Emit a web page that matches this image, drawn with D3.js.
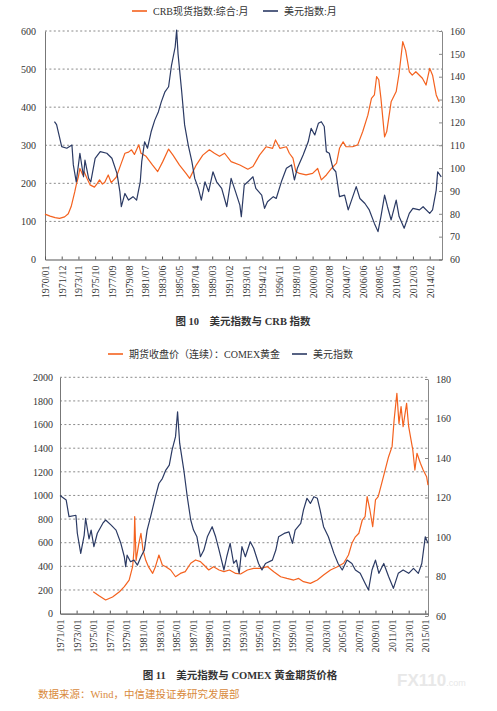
<!DOCTYPE html>
<html>
<head>
<meta charset="utf-8">
<script src="https://cdn.jsdelivr.net/npm/d3@7"></script>
<style>
  body { margin: 0; background: #fff; }
  svg { display: block; }
  text { font-family: "Liberation Serif", "Noto Sans CJK SC", serif; }
</style>
</head>
<body>
<div id="chart"></div>
<script>
// ---- data ----
// chart 1 : CRB spot index (left axis) and dollar index (right axis), monthly
var crbSeries = [
  ["1970-01",119],["1970-08",114],["1971-03",110],["1971-09",108],["1972-04",112],["1972-09",120],["1973-01",139],
  ["1973-06",178],["1973-08",196],["1973-11",218],["1974-01",239],["1974-05",222],["1974-07",230],["1974-11",212],
  ["1975-03",196],["1975-09",190],["1976-01",200],["1976-04",209],["1976-08",198],["1976-11",202],["1977-04",222],
  ["1977-08",202],["1978-03",216],["1978-10",253],["1979-03",279],["1979-08",282],["1979-12",288],["1980-04",276],
  ["1980-10",301],["1981-01",279],["1981-08",271],["1982-05",248],["1982-12",231],["1983-07",257],["1984-03",290],
  ["1984-09",274],["1985-06",248],["1986-03",226],["1986-08",213],["1987-05",248],["1988-02",274],["1988-11",288],
  ["1989-06",279],["1990-01",271],["1990-08",279],["1991-05",257],["1992-05",248],["1993-04",237],["1993-11",244],
  ["1994-08",274],["1995-05",296],["1996-02",292],["1996-06",314],["1996-12",292],["1997-09",296],["1998-01",279],
  ["1998-06",266],["1998-10",231],["1999-03",226],["1999-12",222],["2000-09",226],["2001-04",239],["2001-09",209],
  ["2002-04",222],["2002-11",239],["2003-06",253],["2003-10",292],["2004-03",309],["2004-07",296],["2005-04",296],
  ["2005-11",301],["2006-06",336],["2007-01",379],["2007-06",423],["2007-10",432],["2008-01",480],["2008-04",472],
  ["2008-07",423],["2008-12",322],["2009-03",336],["2009-09",414],["2010-04",441],["2010-08",489],["2011-01",572],
  ["2011-05",549],["2011-10",493],["2012-02",484],["2012-07",493],["2013-04",476],["2013-09",458],["2014-02",502],
  ["2014-06",484],["2014-11",432],["2015-03",414]
];
var dollarSeries1 = [
  ["1971-02",120.3],["1971-05",119],["1971-12",109.4],["1972-07",108.7],["1973-02",110.1],["1973-04",101.4],
  ["1973-08",94],["1974-01",106.5],["1974-06",96.2],["1974-08",103.5],["1975-01",95.5],["1975-04",94],
  ["1975-10",104.3],["1976-05",107.2],["1977-02",106.5],["1977-09",104.3],["1978-04",97.7],["1978-08",89.7],
  ["1978-10",83.1],["1979-03",88.9],["1979-08",86],["1980-02",87.5],["1980-07",86],["1980-12",94],
  ["1981-02",102.8],["1981-06",111.5],["1981-10",108.7],["1982-03",115.9],["1982-08",121],["1983-01",124.7],
  ["1983-05",129],["1983-10",133.4],["1984-03",135.6],["1984-07",145],["1984-12",153],["1985-02",160.4],
  ["1985-04",150],["1985-09",133.4],["1986-01",118.9],["1986-06",110.1],["1986-11",102.8],["1987-03",95.5],
  ["1987-08",91.1],["1987-12",86],["1988-05",94],["1988-10",89.7],["1989-04",98.4],["1989-09",94],
  ["1990-04",91.1],["1990-11",83.1],["1991-05",95.5],["1991-11",89.7],["1992-05",83.8],["1992-07",78.7],
  ["1992-11",92.6],["1993-04",94],["1993-11",96.2],["1994-03",91.1],["1994-11",88.2],["1995-03",82.4],
  ["1995-07",85.3],["1996-03",87.5],["1996-07",86.7],["1997-02",94],["1997-09",99.9],["1998-04",101.4],
  ["1998-08",94.8],["1998-12",99.9],["1999-08",105.7],["2000-03",111.5],["2000-07",117.4],["2000-12",114.5],
  ["2001-05",119.6],["2001-09",120.3],["2002-01",118.2],["2002-04",107.2],["2002-08",106.5],["2003-01",99.9],
  ["2003-05",98.4],["2003-10",87.5],["2004-05",88.2],["2004-10",81.7],["2005-09",91.9],["2006-02",86.7],
  ["2006-09",84.5],["2007-03",81.7],["2007-10",75.8],["2008-03",72.2],["2008-07",78.8],["2008-12",88.2],
  ["2009-04",83.1],["2009-09",77.3],["2010-04",86],["2010-08",78.8],["2011-03",73.7],["2011-10",80.2],
  ["2012-03",82.4],["2012-12",81.7],["2013-05",83.1],["2014-02",80.2],["2014-06",81.7],["2014-11",90.4],
  ["2015-01",98.4],["2015-06",96.2]
];
var topTickLabels = ["1970/01","1971/12","1973/11","1975/10","1977/09","1979/08","1981/07","1983/06",
  "1985/05","1987/04","1989/03","1991/02","1993/01","1994/12","1996/11","1998/10","2000/09","2002/08",
  "2004/07","2006/06","2008/05","2010/04","2012/03","2014/02"];

// chart 2 : COMEX gold futures (left axis) and dollar index (right axis)
var goldSeries = [
  ["1975-01",185],["1975-10",149],["1976-07",115],["1977-05",141],["1978-03",185],["1978-10",228],["1979-05",284],
  ["1979-10",397],["1979-12",538],["1980-01",820],["1980-03",450],["1980-07",595],["1980-10",680],["1981-01",538],
  ["1981-05",451],["1981-09",395],["1982-03",341],["1982-07",397],["1982-12",496],["1983-05",411],["1983-10",397],
  ["1984-05",369],["1984-12",312],["1985-07",340],["1986-02",355],["1986-10",426],["1987-05",454],["1987-12",440],
  ["1988-05",411],["1988-12",369],["1989-07",397],["1990-03",369],["1990-10",355],["1991-06",369],["1992-03",340],
  ["1992-10",335],["1993-08",369],["1994-05",383],["1995-03",383],["1996-01",397],["1996-10",355],["1997-08",312],
  ["1998-05",298],["1999-03",284],["1999-10",298],["2000-05",270],["2001-03",256],["2002-01",284],["2002-10",326],
  ["2003-08",369],["2004-06",397],["2005-03",426],["2005-10",496],["2006-03",595],["2006-08",650],["2007-01",680],
  ["2007-06",792],["2007-10",820],["2008-01",990],["2008-05",877],["2008-09",735],["2009-01",962],["2009-05",990],
  ["2009-10",1103],["2010-03",1215],["2010-08",1328],["2011-01",1413],["2011-04",1639],["2011-08",1865],
  ["2011-11",1610],["2012-02",1752],["2012-05",1582],["2012-10",1780],["2013-01",1582],["2013-07",1385],
  ["2013-10",1215],["2014-01",1357],["2014-06",1272],["2014-10",1215],["2015-03",1159],["2015-05",1088]
];
var dollarSeries2 = [
  ["1971-01",121],["1971-10",118.7],["1972-02",110.3],["1972-12",111],["1973-02",101.9],["1973-07",91.7],
  ["1973-12",101],["1974-02",109.5],["1974-07",99],["1974-10",103.5],["1975-02",95.1],["1975-07",101.9],
  ["1976-03",107],["1976-07",108.6],["1977-03",106],["1977-10",103.5],["1978-05",96.8],["1978-10",90],
  ["1978-12",85],["1979-02",90.8],["1979-07",87.5],["1979-12",88.3],["1980-05",85.8],["1980-10",90],
  ["1981-03",93.4],["1981-07",103.5],["1981-12",110.3],["1982-07",120.4],["1982-12",127.1],["1983-05",129.6],
  ["1983-10",133.9],["1984-03",136.4],["1984-07",144],["1984-12",150.8],["1985-03",163.4],["1985-06",147.5],
  ["1985-12",133.9],["1986-05",120.4],["1986-10",108.6],["1987-02",103.5],["1987-07",100.1],["1987-12",90],
  ["1988-05",93.4],["1988-10",100.1],["1989-05",105.2],["1989-10",100.1],["1990-03",93.4],["1990-10",83.3],
  ["1991-02",90],["1991-07",96.8],["1991-12",86.7],["1992-04",88.3],["1992-08",81.6],["1992-12",95.1],
  ["1993-05",90],["1993-12",97.6],["1994-05",94.3],["1994-12",86.6],["1995-05",83.3],["1995-10",86.6],
  ["1996-08",88.3],["1997-01",93.4],["1997-05",100.1],["1998-01",101.8],["1998-08",102.6],["1999-01",96.8],
  ["1999-05",103.5],["2000-01",106.9],["2000-05",113.7],["2000-10",119.6],["2001-03",117],["2001-08",120.4],
  ["2002-01",119.6],["2002-05",113.7],["2002-10",105.2],["2003-05",100.1],["2004-01",91.7],["2004-07",86.6],
  ["2005-01",83.3],["2005-08",88.3],["2006-03",86.6],["2006-08",83.3],["2007-03",81.6],["2007-10",76.6],
  ["2008-03",73.2],["2008-08",83.3],["2009-01",88.3],["2009-06",81.6],["2010-01",86.6],["2010-08",80],
  ["2011-03",74],["2011-10",81.6],["2012-05",83.3],["2013-01",81.6],["2013-08",84.1],["2014-03",81.6],
  ["2014-08",86.6],["2015-01",100.1],["2015-05",96.8]
];
var bottomTickLabels = ["1971/01","1973/01","1975/01","1977/01","1979/01","1981/01","1983/01","1985/01",
  "1987/01","1989/01","1991/01","1993/01","1995/01","1997/01","1999/01","2001/01","2003/01","2005/01",
  "2007/01","2009/01","2011/01","2013/01","2015/01"];

var leftTicks1 = [0,100,200,300,400,500,600];
var rightTicks1 = [60,70,80,90,100,110,120,130,140,150,160];
var leftTicks2 = [0,200,400,600,800,1000,1200,1400,1600,1800,2000];
var rightTicks2 = [60,80,100,120,140,160,180];

var ORANGE = "#f4621f", BLUE = "#2b3a64";

var parseMonth = d3.timeParse("%Y-%m");
var parseTick = d3.timeParse("%Y/%m");

var svg = d3.select("#chart")
  .append("svg")
  .attr("width", 497)
  .attr("height", 711);

function drawPanel(opt) {
  var x = d3.scaleTime()
    .domain([parseMonth(opt.xStart), parseMonth(opt.xEnd)])
    .range([opt.left, opt.right]);
  var yL = d3.scaleLinear().domain(opt.leftDomain).range([opt.bottom, opt.top]);
  var yR = d3.scaleLinear().domain(opt.rightDomain).range(opt.rightRange);

  var g = svg.append("g");

  // dashed gridlines
  g.selectAll(".grid")
    .data(opt.leftTicks.slice(1))
    .enter()
    .append("line")
      .attr("x1", opt.left).attr("x2", opt.right)
      .attr("y1", function (d) { return yL(d); })
      .attr("y2", function (d) { return yL(d); })
      .attr("stroke", "#6d6d6d")
      .attr("stroke-width", 0.8)
      .attr("stroke-dasharray", "2,2.4");

  // left axis
  var la = g.append("g")
    .attr("transform", "translate(" + opt.left + ",0)")
    .call(d3.axisLeft(yL).tickValues(opt.leftTicks).tickFormat(d3.format("d"))
      .tickSize(0).tickPadding(opt.leftPad));
  la.select(".domain").attr("stroke", "#777").attr("stroke-width", 1);
  la.selectAll("text").style("font-size", "10px").style("fill", "#333");

  // right axis
  var ra = g.append("g")
    .attr("transform", "translate(" + opt.right + ",0)")
    .call(d3.axisRight(yR).tickValues(opt.rightTicks).tickFormat(d3.format("d"))
      .tickSizeInner(-3).tickSizeOuter(0).tickPadding(8));
  ra.select(".domain").attr("stroke", "#888").attr("stroke-width", 1);
  ra.selectAll("line").attr("stroke", "#888");
  ra.selectAll("text").style("font-size", "10px").style("fill", "#333");

  // bottom axis
  var ba = g.append("g")
    .attr("transform", "translate(0," + opt.bottom + ")")
    .call(d3.axisBottom(x)
      .tickValues(opt.xTicks.map(parseTick))
      .tickFormat(d3.timeFormat("%Y/%m"))
      .tickSizeInner(-3).tickSizeOuter(0).tickPadding(6));
  ba.select(".domain").attr("stroke", "#555").attr("stroke-width", 1.2);
  ba.selectAll("line").attr("stroke", "#555");
  ba.selectAll("text")
    .style("font-size", "10px")
    .style("fill", "#333")
    .attr("text-anchor", "end")
    .attr("transform", "rotate(-90)")
    .attr("x", -6)
    .attr("y", 0)
    .attr("dy", "0.35em");

  // lines
  var lineL = d3.line()
    .x(function (d) { return x(parseMonth(d[0])); })
    .y(function (d) { return yL(d[1]); });
  var lineR = d3.line()
    .x(function (d) { return x(parseMonth(d[0])); })
    .y(function (d) { return yR(d[1]); });

  g.append("path")
    .datum(opt.leftSeries)
    .attr("d", lineL)
    .attr("fill", "none")
    .attr("stroke", ORANGE)
    .attr("stroke-width", 1.2)
    .attr("stroke-linejoin", "round");

  g.append("path")
    .datum(opt.rightSeries)
    .attr("d", lineR)
    .attr("fill", "none")
    .attr("stroke", BLUE)
    .attr("stroke-width", 1.2)
    .attr("stroke-linejoin", "round");

  // legend
  opt.legend.forEach(function (item) {
    g.append("line")
      .attr("x1", item.x).attr("x2", item.x + 15)
      .attr("y1", opt.legendY).attr("y2", opt.legendY)
      .attr("stroke", item.color)
      .attr("stroke-width", 1.6);
    g.append("text")
      .attr("x", item.x + 21)
      .attr("y", opt.legendY)
      .attr("dy", "0.35em")
      .style("font-size", "10px")
      .style("fill", "#333")
      .text(item.label);
  });

  // caption
  g.append("text")
    .attr("x", opt.captionX)
    .attr("y", opt.captionY)
    .attr("text-anchor", "middle")
    .style("font-size", "10.5px")
    .style("font-weight", "bold")
    .style("white-space", "pre")
    .style("fill", "#333")
    .text(opt.caption);
}

drawPanel({
  left: 45, right: 442, top: 31, bottom: 259.5,
  xStart: "1970-01", xEnd: "2015-07",
  leftDomain: [0, 600], rightDomain: [60, 160], rightRange: [259.5, 31],
  leftTicks: leftTicks1, rightTicks: rightTicks1, leftPad: 9,
  xTicks: topTickLabels,
  leftSeries: crbSeries, rightSeries: dollarSeries1,
  legendY: 11,
  legend: [
    {x: 132, color: ORANGE, label: "CRB现货指数:综合:月"},
    {x: 263, color: BLUE, label: "美元指数:月"}
  ],
  captionX: 243, captionY: 325,
  caption: "图 10    美元指数与 CRB 指数"
});

drawPanel({
  left: 60, right: 428, top: 377.3, bottom: 613.6,
  xStart: "1971-01", xEnd: "2015-05",
  leftDomain: [0, 2000], rightDomain: [60, 180], rightRange: [616, 379],
  leftTicks: leftTicks2, rightTicks: rightTicks2, leftPad: 7,
  xTicks: bottomTickLabels,
  leftSeries: goldSeries, rightSeries: dollarSeries2,
  legendY: 354,
  legend: [
    {x: 108, color: ORANGE, label: "期货收盘价（连续）：COMEX黄金"},
    {x: 292, color: BLUE, label: "美元指数"}
  ],
  captionX: 240, captionY: 679,
  caption: "图 11    美元指数与 COMEX 黄金期货价格"
});

// source note and watermark
svg.append("text")
  .attr("x", 38)
  .attr("y", 698)
  .style("font-size", "10.5px")
  .style("fill", "#d98a3c")
  .text("数据来源：Wind，中信建投证券研究发展部");

svg.append("text")
  .attr("x", 397)
  .attr("y", 686)
  .style("font-size", "17px")
  .style("font-family", "Liberation Sans")
  .style("font-weight", "bold")
  .style("fill", "#e8e8e8")
  .text("FX110")
  .append("tspan")
    .style("font-size", "9px")
    .style("font-weight", "normal")
    .text(".com");
</script>
</body>
</html>
